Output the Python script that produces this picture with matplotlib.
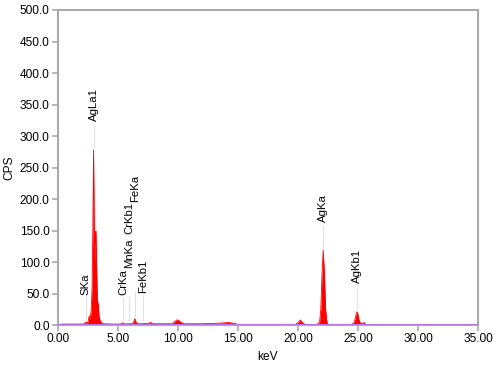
#!/usr/bin/env python
"""EDX spectrum (CPS vs keV) with peak identification labels."""
import matplotlib

matplotlib.use("Agg")
import matplotlib.pyplot as plt

plt.rcParams["font.family"] = ["Liberation Sans", "DejaVu Sans"]

# spectrum vertices
kev = [0.2, 0.3, 1.0, 2.0, 2.2, 2.31, 2.4, 2.5, 2.6, 2.68, 2.76, 2.84, 2.9,
       2.96, 3.02, 3.07, 3.12, 3.16, 3.22, 3.28, 3.36, 3.42, 3.5, 3.6, 3.8,
       4.5, 5.2, 5.41, 5.55, 5.9, 6.2, 6.3, 6.4, 6.5, 6.6, 7.0, 7.5, 7.7,
       7.9, 9.5, 9.7, 9.9, 10.0, 10.2, 10.5, 12.0, 13.5, 14.2, 14.6, 15.0,
       19.8, 20.05, 20.2, 20.35, 20.6, 21.6, 21.8, 21.9, 22.0, 22.1, 22.2,
       22.3, 22.4, 22.5, 24.5, 24.7, 24.8, 24.9, 24.98, 25.08, 25.2, 25.35,
       25.5, 25.6, 25.7]
cps = [0, 1.5, 1.5, 1.5, 2, 5, 3, 5, 14, 10, 22, 60, 150,
       278, 160, 100, 140, 149, 90, 40, 32, 14, 8, 4, 2,
       1.5, 1.5, 3.5, 1.5, 2, 2, 5, 10, 5, 2, 2, 2.5, 4,
       2, 2, 5, 8, 8, 5, 2, 2, 3, 4, 3, 1,
       1, 5, 8, 4, 1, 1, 5, 25, 80, 119, 80,
       25, 5, 1, 1, 5, 14, 21, 18, 8, 3, 2,
       4, 2, 0]

# peak identification
peak_names = ["SKa", "AgLa1", "CrKa", "MnKa", "CrKb1", "FeKa", "FeKb1", "AgKa", "AgKb1"]
peak_kev = [2.31, 2.98, 5.41, 5.90, 5.95, 6.40, 7.06, 22.1, 24.94]
line_lo = [10, 282, 8, 8, 8, 14, 8, 123, 25]
line_hi = [44, 318, 44, 44, 44, 52, 48, 158, 60]
label_at = [48, 324, 47, 91, 144, 196, 51, 163, 67]

fig = plt.figure(figsize=(5.0, 3.69), dpi=100)
ax = fig.add_axes([0.116, 0.1192, 0.840, 0.8537])

ax.fill_between(kev, cps, 0, color="#ff0000", lw=0, zorder=2)
ax.plot(kev, cps, color="#ff0000", lw=0.6, zorder=2)
ax.plot([0, 35], [0, 0], color="#b76ee8", lw=2, zorder=3)

for name, e, lo, hi, ly in zip(peak_names, peak_kev, line_lo, line_hi, label_at):
    ax.plot([e, e], [lo, hi], color="#e2e2e2", lw=0.8, zorder=1)
    ax.text(e, ly, name, rotation=90, ha="center", va="bottom", fontsize=8.2,
            color="black")

ax.set_xlim(0, 35)
ax.set_ylim(0, 500)
ax.set_xticks([0, 5, 10, 15, 20, 25, 30, 35])
ax.set_xticklabels([f"{v:.2f}" for v in ax.get_xticks()])
ax.set_yticks(range(0, 501, 50))
ax.set_yticklabels([f"{v:.1f}" for v in range(0, 501, 50)])
ax.tick_params(direction="out", length=4, width=1.2, color="#aaaaaa",
               labelsize=8.6, pad=2)
for s in ax.spines.values():
    s.set_color("#aaaaaa")
    s.set_linewidth(1.5)

ax.set_xlabel("keV", fontsize=8.6, labelpad=4)
ax.set_ylabel("CPS", fontsize=8.6, labelpad=3)

fig.savefig("out.png", dpi=100)
